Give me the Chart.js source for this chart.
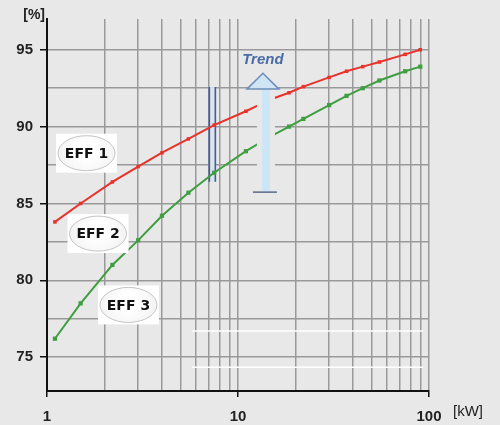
<!DOCTYPE html>
<html><head><meta charset="utf-8">
<script src="https://cdn.jsdelivr.net/npm/chart.js@4"></script>
<style>html,body{margin:0;padding:0;background:#e8e8e8;}canvas{display:block}</style>
</head><body>
<canvas id="c" width="500" height="425"></canvas>
<script>
// ---- data ----
const kW   = [1.1, 1.5, 2.2, 3, 4, 5.5, 7.5, 11, 15, 18.5, 22, 30, 37, 45, 55, 75, 90];
const eff1 = [83.8, 85.0, 86.4, 87.4, 88.3, 89.2, 90.1, 91.0, 91.8, 92.2, 92.6, 93.2, 93.6, 93.9, 94.2, 94.7, 95.0];
const eff2 = [76.2, 78.5, 81.0, 82.6, 84.2, 85.7, 87.0, 88.4, 89.4, 90.0, 90.5, 91.4, 92.0, 92.5, 93.0, 93.6, 93.9];

const xTickValues  = [1,2,3,4,5,6,7,8,9,10,20,30,40,50,60,70,80,90,100];
const xLabelValues = [1, 10, 100];
const yTickValues  = [75, 77.5, 80, 82.5, 85, 87.5, 90, 92.5, 95];
const yLabelValues = [75, 80, 85, 90, 95];

// decorative white strokes (data units)
const whiteLineX = [5.75, 93];
const whiteLineY = [76.7, 74.35];

// annotations (data units)
const badgeLabels = ['EFF 1', 'EFF 2', 'EFF 3'];
const badgeX = [1.61, 1.85, 2.67];
const badgeY = [88.27, 83.04, 78.4];
const markerX = 7.34, markerTop = 92.57, markerBottom = 86.42;
const trendX = 14.0, trendTop = 92.44, trendBottom = 85.77, trendHeadTop = 93.47;
const trendLabel = 'Trend', trendLabelY = 94.37;

const BG = '#e8e8e8';

const deco = {
  id: 'deco',
  beforeDraw(chart) {
    const c = chart.ctx; c.save(); c.fillStyle = BG; c.fillRect(0, 0, chart.width, chart.height); c.restore();
  },
  beforeDatasetsDraw(chart) {
    const {ctx, scales: {x, y}} = chart;
    const cx = x.getPixelForValue(markerX);
    const t = y.getPixelForValue(markerTop), b = y.getPixelForValue(markerBottom);
    ctx.save();
    ctx.fillStyle = '#dde4ec';
    ctx.fillRect(cx - 3, t, 6, b - t);
    ctx.strokeStyle = '#3d5e9c'; ctx.lineWidth = 1.6;
    ctx.beginPath();
    ctx.moveTo(cx - 3, t); ctx.lineTo(cx - 3, b);
    ctx.moveTo(cx + 3, t); ctx.lineTo(cx + 3, b);
    ctx.stroke();
    ctx.restore();
  },
  afterDatasetsDraw(chart) {
    const {ctx, scales: {x, y}, chartArea} = chart;
    ctx.save();
    // trend bar
    const tx = x.getPixelForValue(trendX);
    const tt = y.getPixelForValue(trendTop), tb = y.getPixelForValue(trendBottom);
    const th = y.getPixelForValue(trendHeadTop);
    ctx.fillStyle = BG;
    ctx.fillRect(tx - 9, tt, 18, tb - tt);
    ctx.fillStyle = '#cde6f7';
    ctx.fillRect(tx - 4, tt, 8, tb - tt);
    ctx.strokeStyle = '#5a6a88'; ctx.lineWidth = 1.5;
    ctx.beginPath(); ctx.moveTo(tx - 13, tb + 0.5); ctx.lineTo(tx + 11, tb + 0.5); ctx.stroke();
    // head
    ctx.beginPath();
    ctx.moveTo(tx - 19, tt); ctx.lineTo(tx - 3, th); ctx.lineTo(tx + 13, tt); ctx.closePath();
    ctx.fillStyle = '#cfe5f5'; ctx.fill();
    ctx.strokeStyle = '#6d8db8'; ctx.lineWidth = 1.5; ctx.stroke();
    // trend text
    ctx.fillStyle = '#4a6ca6';
    ctx.font = 'italic bold 15px "Liberation Sans", Arial, sans-serif';
    ctx.textAlign = 'center'; ctx.textBaseline = 'middle';
    ctx.fillText(trendLabel, tx - 3, y.getPixelForValue(trendLabelY));
    // badges
    badgeLabels.forEach((lab, i) => {
      const bx = x.getPixelForValue(badgeX[i]), by = y.getPixelForValue(badgeY[i]);
      ctx.fillStyle = '#ffffff';
      ctx.fillRect(bx - 30.5, by - 19.5, 61, 39);
      const g = ctx.createRadialGradient(bx, by - 4, 8, bx, by, 30);
      g.addColorStop(0, '#ffffff'); g.addColorStop(1, '#f2f2f2');
      ctx.beginPath(); ctx.ellipse(bx, by, 28.5, 17.5, 0, 0, Math.PI * 2);
      ctx.fillStyle = g; ctx.fill();
      ctx.strokeStyle = '#c4c4c4'; ctx.lineWidth = 1; ctx.stroke();
      ctx.fillStyle = '#111';
      ctx.font = 'bold 14px "DejaVu Sans", sans-serif';
      ctx.textAlign = 'center'; ctx.textBaseline = 'middle';
      ctx.fillText(lab, bx, by + 1);
    });
    // unit labels
    ctx.fillStyle = '#222';
    ctx.font = 'bold 14px "Liberation Sans", Arial, sans-serif';
    ctx.textAlign = 'right'; ctx.textBaseline = 'middle';
    ctx.fillText('[%]', chartArea.left - 2, chartArea.top - 4);
    ctx.font = '15px "Liberation Sans", Arial, sans-serif';
    ctx.textAlign = 'left';
    ctx.fillText('[kW]', chartArea.right + 24, chartArea.bottom + 21);
    ctx.restore();
  }
};

const tickFont = {family: '"Liberation Sans", Arial, sans-serif', size: 15, weight: 'bold'};

new Chart(document.getElementById('c'), {
  type: 'line',
  data: {
    datasets: [
      {label: 'EFF 1', data: kW.map((v, i) => ({x: v, y: eff1[i]})), borderColor: '#e8322b', backgroundColor: '#e8322b',
       borderWidth: 2, pointRadius: 2.5, pointStyle: 'rect', pointBorderWidth: 0, tension: 0},
      {label: 'EFF 2', data: kW.map((v, i) => ({x: v, y: eff2[i]})), borderColor: '#3e9e40', backgroundColor: '#3e9e40',
       borderWidth: 2, pointRadius: 3, pointStyle: 'rect', pointBorderWidth: 0, tension: 0},
      {label: 'w1', data: whiteLineX.map(v => ({x: v, y: whiteLineY[0]})), borderColor: '#ffffff', borderWidth: 1.5, pointRadius: 0},
      {label: 'w2', data: whiteLineX.map(v => ({x: v, y: whiteLineY[1]})), borderColor: '#ffffff', borderWidth: 1.5, pointRadius: 0}
    ]
  },
  options: {
    responsive: false, animation: false, devicePixelRatio: 1,
    layout: {padding: {top: 19, right: 71, left: 0, bottom: 0}},
    plugins: {legend: {display: false}, tooltip: {enabled: false}},
    scales: {
      x: {
        type: 'logarithmic', min: 1, max: 100,
        afterBuildTicks: s => { s.ticks = xTickValues.map(v => ({value: v})); },
        afterFit: s => { s.height = 34; },
        ticks: {autoSkip: false, maxRotation: 0, padding: 11, color: '#222', font: tickFont,
          callback: v => xLabelValues.includes(v) ? String(v) : ''},
        grid: {color: '#999999', lineWidth: 1.5, tickLength: 6,
          tickColor: c => (c.tick && xLabelValues.includes(c.tick.value)) ? '#111' : 'rgba(0,0,0,0)'},
        border: {color: '#111', width: 2}
      },
      y: {
        min: 72.8, max: 97,
        afterBuildTicks: s => { s.ticks = yTickValues.map(v => ({value: v})); },
        afterFit: s => { s.width = 47; },
        ticks: {autoSkip: false, padding: 7, color: '#222', font: tickFont,
          callback: v => yLabelValues.includes(v) ? String(v) : ''},
        grid: {color: '#999999', lineWidth: 1.5, tickLength: 7,
          tickColor: c => (c.tick && yLabelValues.includes(c.tick.value)) ? '#111' : 'rgba(0,0,0,0)'},
        border: {color: '#111', width: 2}
      }
    }
  },
  plugins: [deco]
});
</script>
</body></html>
